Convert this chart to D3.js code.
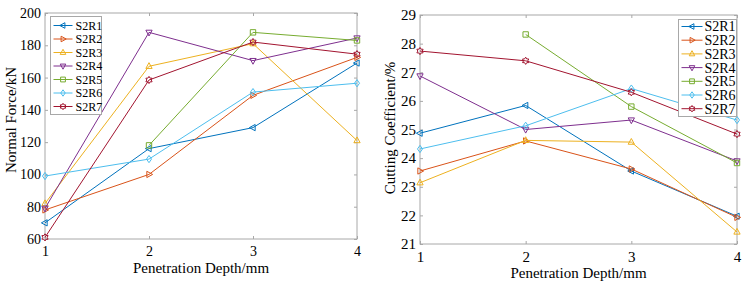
<!DOCTYPE html>
<html>
<head>
<meta charset="utf-8">
<script src="https://cdn.jsdelivr.net/npm/d3@7"></script>
<style>
  body { margin: 0; background: #fff; }
  text { font-family: "Liberation Serif", "Times New Roman", serif; fill: #000; }
</style>
</head>
<body>
<div id="chart"></div>
<script>
// shared categories
var depth = [1, 2, 3, 4];
var seriesNames = ["S2R1", "S2R2", "S2R3", "S2R4", "S2R5", "S2R6", "S2R7"];
var colours = ["#0072BD", "#D95319", "#EDB120", "#7E2F8E", "#77AC30", "#4DBEEE", "#A2142F"];
var markers = ["left", "right", "up", "down", "square", "diamond", "hex"];

// normal force (kN)
var forceR1 = [70, 116, 129, 169];
var forceR2 = [78, 100, 149, 172.5];
var forceR3 = [82, 167, 181, 121];
var forceR4 = [79, 188, 170.5, 184.5];
var forceR5 = [null, 118, 188, 183];
var forceR6 = [99, 109.5, 151, 156.5];
var forceR7 = [61, 158.5, 182, 174.5];

// cutting coefficient (%)
var coefR1 = [24.87, 25.84, 23.55, 21.97];
var coefR2 = [23.55, 24.6, 23.62, 21.93];
var coefR3 = [23.14, 24.62, 24.56, 21.42];
var coefR4 = [26.87, 25.0, 25.33, 23.9];
var coefR5 = [null, 28.32, 25.8, 23.83];
var coefR6 = [24.32, 25.13, 26.43, 25.33];
var coefR7 = [27.74, 27.4, 26.3, 24.84];

var forceTicks = [60, 80, 100, 120, 140, 160, 180, 200];
var coefTicks = [21, 22, 23, 24, 25, 26, 27, 28, 29];

var svg = d3.select("#chart").append("svg")
    .attr("width", 749).attr("height", 281);

function markerPath(type, r){
    var h = r * 0.87;
    if(type == "up") return "M0," + (-r) + "L" + h + "," + (r*0.6) + "L" + (-h) + "," + (r*0.6) + "Z";
    if(type == "down") return "M0," + r + "L" + h + "," + (-r*0.6) + "L" + (-h) + "," + (-r*0.6) + "Z";
    if(type == "left") return "M" + (-r) + ",0L" + (r*0.6) + "," + h + "L" + (r*0.6) + "," + (-h) + "Z";
    if(type == "right") return "M" + r + ",0L" + (-r*0.6) + "," + h + "L" + (-r*0.6) + "," + (-h) + "Z";
    if(type == "square") { var s = r*0.75; return "M" + (-s) + "," + (-s) + "H" + s + "V" + s + "H" + (-s) + "Z"; }
    if(type == "diamond") return "M0," + (-r) + "L" + (r*0.7) + ",0L0," + r + "L" + (-r*0.7) + ",0Z";
    // hexagram
    var p = "";
    for(var i = 0; i < 12; i++){
        var a = Math.PI / 6 * i - Math.PI / 2;
        var rr = (i % 2 == 0) ? r : r * 0.6;
        p += (i == 0 ? "M" : "L") + (rr*Math.cos(a)).toFixed(2) + "," + (rr*Math.sin(a)).toFixed(2);
    }
    return p + "Z";
}

function drawPanel(opt){
    var x = d3.scaleLinear().domain([1, 4]).range([opt.left, opt.right]);
    var y = d3.scaleLinear().domain(opt.domain).range([opt.bottom, opt.top]);
    var g = svg.append("g");
    var grey = "#a8a8a8";

    // box
    g.append("rect")
        .attr("x", opt.left).attr("y", opt.top)
        .attr("width", opt.right - opt.left).attr("height", opt.bottom - opt.top)
        .attr("fill", "none").attr("stroke", grey).attr("stroke-width", 1);

    // inward ticks all round
    var ax = [
        d3.axisBottom(x).tickValues(depth).tickSizeInner(-3).tickSizeOuter(0).tickFormat(d3.format("d")),
        d3.axisTop(x).tickValues(depth).tickSizeInner(-3).tickSizeOuter(0).tickFormat(""),
        d3.axisLeft(y).tickValues(opt.ticks).tickSizeInner(-3).tickSizeOuter(0).tickFormat(d3.format("d")),
        d3.axisRight(y).tickValues(opt.ticks).tickSizeInner(-3).tickSizeOuter(0).tickFormat("")
    ];
    var pos = ["translate(0," + opt.bottom + ")", "translate(0," + opt.top + ")",
               "translate(" + opt.left + ",0)", "translate(" + opt.right + ",0)"];
    ax.forEach(function(a, i){
        var ag = g.append("g").attr("transform", pos[i]).call(a);
        ag.select(".domain").remove();
        ag.selectAll("line").attr("stroke", grey);
        ag.selectAll("text").attr("font-family", "Liberation Serif").attr("font-size", opt.tickFont).attr("fill", "#000");
        if(i == 0) ag.selectAll("text").attr("y", 7.5);
        if(i == 2) ag.selectAll("text").attr("x", -4);
    });

    // axis titles
    g.append("text")
        .attr("x", (opt.left + opt.right) / 2).attr("y", opt.bottom + 34)
        .attr("text-anchor", "middle").attr("font-size", 15)
        .text("Penetration Depth/mm");
    g.append("text")
        .attr("transform", "translate(" + opt.ytitleX + "," + opt.ytitleY + ") rotate(-90)")
        .attr("text-anchor", "middle").attr("font-size", 15)
        .text(opt.ytitle);

    var line = d3.line()
        .defined(function(d){ return d != null; })
        .x(function(d, i){ return x(depth[i]); })
        .y(function(d){ return y(d); });

    opt.series.forEach(function(vals, k){
        g.append("path")
            .attr("d", line(vals))
            .attr("fill", "none").attr("stroke", colours[k]).attr("stroke-width", 1);
        vals.forEach(function(v, i){
            if(v == null) return;
            g.append("path")
                .attr("d", markerPath(markers[k], 3.6))
                .attr("transform", "translate(" + x(depth[i]) + "," + y(v) + ")")
                .attr("fill", "none").attr("stroke", colours[k]).attr("stroke-width", 1);
        });
    });

    // legend
    var L = opt.legend;
    g.append("rect")
        .attr("x", L.x).attr("y", L.y).attr("width", L.w).attr("height", L.h)
        .attr("fill", "#fff").attr("stroke", grey).attr("stroke-width", 1);
    seriesNames.forEach(function(name, k){
        var yy = L.y + L.first + k * L.step;
        g.append("line")
            .attr("x1", L.x + 3).attr("x2", L.x + L.lineLen)
            .attr("y1", yy).attr("y2", yy)
            .attr("stroke", colours[k]).attr("stroke-width", 1);
        g.append("path")
            .attr("d", markerPath(markers[k], 3.2))
            .attr("transform", "translate(" + (L.x + 3 + (L.lineLen - 3) / 2) + "," + yy + ")")
            .attr("fill", "none").attr("stroke", colours[k]).attr("stroke-width", 1);
        g.append("text")
            .attr("x", L.x + L.textX).attr("y", yy)
            .attr("dy", "0.35em").attr("font-size", L.font)
            .text(name);
    });
}

drawPanel({
    left: 45, right: 357, top: 13, bottom: 239,
    domain: [60, 200], ticks: forceTicks, tickFont: 14,
    ytitle: "Normal Force/kN", ytitleX: 16, ytitleY: 120,
    series: [forceR1, forceR2, forceR3, forceR4, forceR5, forceR6, forceR7],
    legend: { x: 50.5, y: 16.5, w: 51, h: 98, first: 9, step: 13.5, lineLen: 22, textX: 25, font: 12 }
});

drawPanel({
    left: 420, right: 737, top: 15, bottom: 244,
    domain: [21, 29], ticks: coefTicks, tickFont: 15,
    ytitle: "Cutting Coefficient/%", ytitleX: 395, ytitleY: 128,
    series: [coefR1, coefR2, coefR3, coefR4, coefR5, coefR6, coefR7],
    legend: { x: 678.5, y: 19.5, w: 58, h: 97, first: 7, step: 13.7, lineLen: 24, textX: 26, font: 14 }
});
</script>
</body>
</html>
